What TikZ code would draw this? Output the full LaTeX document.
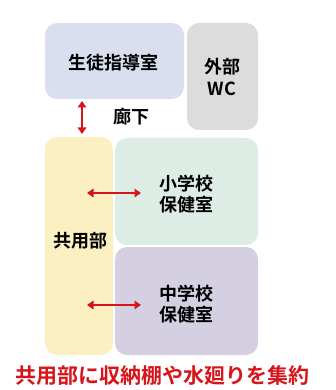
\documentclass[tikz,border=0pt]{standalone}
\usepackage{fontspec}
\setmainfont{Noto Sans CJK JP Bold}
\usetikzlibrary{arrows.meta}
\definecolor{cBlue}{HTML}{D9DFEF}
\definecolor{cGray}{HTML}{DCDCDC}
\definecolor{cYellow}{HTML}{FBF0C2}
\definecolor{cGreen}{HTML}{DDEDE6}
\definecolor{cPurple}{HTML}{D4D0E2}
\definecolor{cRed}{HTML}{D7141A}
\tikzset{
  room/.style={rounded corners=12pt, draw=none},
  lbl/.style={font=\fontsize{18}{21.5}\selectfont, align=center, text=black, inner sep=0pt},
  link/.style={draw=cRed, line width=2pt, {Triangle[length=6.5pt,width=8.5pt]}-{Triangle[length=6.5pt,width=8.5pt]}}
}
\begin{document}
\begin{tikzpicture}[x=1pt,y=-1pt]
\useasboundingbox (0,0) rectangle (335,390);
\fill[room, cBlue] (45,23) rectangle (184,99);
\fill[room, cGray] (187,23) rectangle (258,130);
\fill[room, cYellow] (45,137) rectangle (113,355);
\fill[room, cGreen] (115,138) rectangle (258,245);
\fill[room, cPurple] (115,247) rectangle (258,355);
\node[lbl] (shido) at (113,63) {生徒指導室};
\node[lbl] (wc) at (222,77) {外部\\WC};
\node[lbl] (roka) at (131,117) {廊下};
\node[lbl] (kyoyo) at (80,241) {共用部};
\node[lbl] (sho) at (186,194) {小学校\\保健室};
\node[lbl] (chu) at (186,304) {中学校\\保健室};
\coordinate (v1) at (82,101);
\coordinate (v2) at (82,134);
\coordinate (h1a) at (87,193);
\coordinate (h1b) at (141,193);
\coordinate (h2a) at (87,305);
\coordinate (h2b) at (141,305);
\draw[link] (v1) -- (v2);
\draw[link, line width=1.6pt] (h1a) -- (h1b);
\draw[link, line width=1.6pt] (h2a) -- (h2b);
\node[font=\fontsize{21}{25}\selectfont, text=cRed, inner sep=0pt] (note) at (162,376) {共用部に収納棚や水廻りを集約};
\end{tikzpicture}
\end{document}
